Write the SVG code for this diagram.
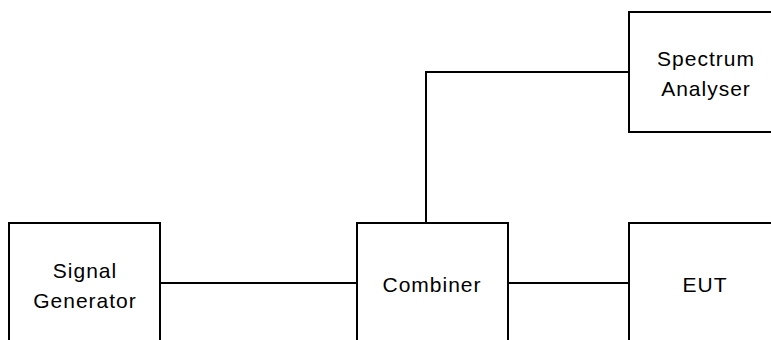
<svg xmlns="http://www.w3.org/2000/svg" width="771" height="340" viewBox="0 0 771 340">
<style>
.box{fill:#fff;stroke:#000;stroke-width:2}
.wire{fill:none;stroke:#000;stroke-width:2}
.lbl{font-family:"Liberation Sans",Arial,sans-serif;font-size:21px;fill:#000;text-anchor:middle;letter-spacing:1px}
</style>
<rect width="771" height="340" fill="#fff"/>
<g id="connectors">
<line class="wire" x1="160" y1="283" x2="357" y2="283"/>
<line class="wire" x1="508" y1="283" x2="629" y2="283"/>
<polyline class="wire" points="426,223 426,72 629,72"/>
</g>
<g id="signal-generator">
<rect class="box" x="9" y="223" width="151" height="140"/>
<text class="lbl" x="85" y="278">Signal</text>
<text class="lbl" x="85" y="308">Generator</text>
</g>
<g id="combiner">
<rect class="box" x="357" y="223" width="151" height="140"/>
<text class="lbl" x="432" y="292">Combiner</text>
</g>
<g id="eut">
<rect class="box" x="629" y="223" width="160" height="140"/>
<text class="lbl" x="705" y="292">EUT</text>
</g>
<g id="spectrum-analyser">
<rect class="box" x="629" y="12" width="160" height="120"/>
<text class="lbl" x="706" y="66">Spectrum</text>
<text class="lbl" x="706" y="96">Analyser</text>
</g>
</svg>
